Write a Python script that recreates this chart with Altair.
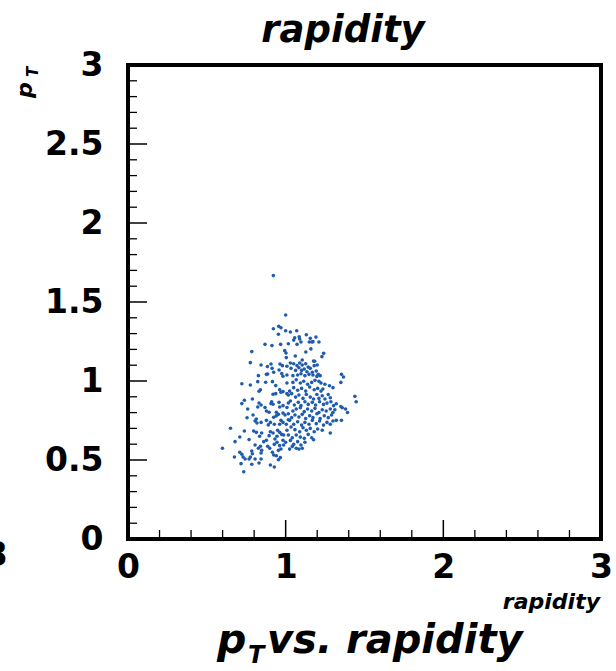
import altair as alt
import pandas as pd

# ---- data (rapidity, pT) ----
rapidity = [
    0.922, 1.000, 0.922, 0.956, 0.970, 1.000, 0.954, 0.869, 0.913, 0.968, 1.017, 0.785, 0.994, 1.002, 1.004,
    0.776, 0.844, 0.884, 0.907, 0.964, 0.979, 0.914, 1.008,
    1.030, 1.070, 1.131, 1.057, 1.051, 1.086, 1.089, 1.156, 1.167, 1.192, 1.072, 1.097, 1.150, 1.173, 1.211,
    1.160, 1.128, 1.241, 1.230, 1.061, 1.105, 1.184, 1.200,
    0.958, 0.975, 0.983, 1.008, 0.827, 0.878, 0.886, 0.924, 0.823, 0.873, 0.916, 0.722, 0.776, 1.008, 0.937,
    0.840, 0.831, 0.962, 0.970, 0.983, 0.920, 0.937, 1.008, 1.017, 0.789, 0.738, 0.722, 0.831, 0.844, 0.823,
    0.911, 0.920, 0.907, 0.869, 0.958, 0.962, 0.983, 1.017, 1.008, 0.759, 0.878, 0.895, 0.793, 0.941, 0.954,
    0.983, 0.996, 0.924, 0.940, 1.017, 0.755, 0.814, 0.844, 0.818, 0.806, 0.878, 0.903, 0.890, 0.928, 0.970,
    0.983, 0.962, 1.004, 1.017, 0.650, 0.738, 0.797, 0.814, 0.848, 0.835, 0.903, 0.920, 0.895, 0.949, 0.962,
    0.975, 0.945, 0.987, 1.008, 1.017, 0.709, 0.768, 0.679, 0.861, 0.878, 0.932, 0.945, 0.928, 0.983, 1.000,
    0.987, 0.806, 0.840, 0.827, 0.886, 0.899, 0.962, 0.970, 0.954, 0.599, 0.709, 0.722, 0.785, 0.789, 0.848,
    0.844, 0.916, 0.924, 0.675, 0.730, 0.743, 0.776, 0.768, 0.806, 0.844, 0.941, 0.966, 0.954, 0.717, 0.785,
    0.831, 0.903, 0.928, 0.734,
    1.030, 1.051, 1.072, 1.089, 1.105, 1.127, 1.143, 1.177, 1.181, 1.207, 1.219,
    1.034, 1.063, 1.084, 1.101, 1.118, 1.135, 1.156, 1.169, 1.194,
    1.046, 1.076, 1.097, 1.122, 1.148, 1.173, 1.198, 1.354, 1.367, 1.224, 1.350,
    1.046, 1.067, 1.093, 1.114, 1.139, 1.165, 1.186, 1.211, 1.249, 1.278, 1.300,
    1.025, 1.051, 1.076, 1.101, 1.127, 1.152, 1.181, 1.203, 1.224, 1.198, 1.236,
    1.038, 1.063, 1.084, 1.110, 1.131, 1.156, 1.177, 1.211, 1.232, 1.249, 1.270, 1.283, 1.439, 1.447,
    1.030, 1.055, 1.080, 1.097, 1.122, 1.143, 1.169, 1.190, 1.215, 1.240, 1.262, 1.287, 1.304, 1.321, 1.350,
    1.380, 1.392, 1.359,
    1.046, 1.067, 1.093, 1.118, 1.139, 1.165, 1.186, 1.211, 1.232, 1.257, 1.283, 1.300, 1.312,
    1.038, 1.059, 1.084, 1.105, 1.127, 1.152, 1.173, 1.198, 1.219, 1.245, 1.270, 1.291, 1.321, 1.354, 1.300,
    1.025, 1.051, 1.076, 1.101, 1.122, 1.148, 1.169, 1.194, 1.215, 1.240, 1.262, 1.283,
    1.034, 1.059, 1.089, 1.110, 1.131, 1.156, 1.181, 1.203, 1.232, 1.283,
    1.042, 1.067, 1.093, 1.118, 1.143, 1.165, 1.177,
    1.030, 1.051, 1.076, 1.097, 1.122,
    1.042, 1.025, 1.067, 1.084, 1.105,
]
pt = [
    1.667, 1.418, 1.331, 1.346, 1.337, 1.318, 1.296, 1.232, 1.224, 1.232, 1.236, 1.186, 1.192, 1.177, 1.148,
    1.116, 1.101, 1.091, 1.108, 1.108, 1.097, 1.080, 1.093,
    1.310, 1.318, 1.293, 1.274, 1.259, 1.280, 1.266, 1.270, 1.247, 1.278, 1.232, 1.247, 1.247, 1.249, 1.247,
    1.203, 1.184, 1.175, 1.154, 1.158, 1.133, 1.125, 1.101,
    1.070, 1.047, 1.030, 1.038, 1.034, 1.042, 1.044, 1.055, 0.996, 0.992, 0.996, 0.983, 0.975, 0.987, 0.971,
    0.945, 0.935, 0.945, 0.929, 0.933, 0.916, 0.920, 0.920, 0.911, 0.886, 0.878, 0.857, 0.861, 0.848, 0.835,
    0.869, 0.853, 0.857, 0.832, 0.865, 0.835, 0.844, 0.861, 0.832, 0.823, 0.810, 0.802, 0.785, 0.802, 0.789,
    0.797, 0.785, 0.771, 0.779, 0.793, 0.767, 0.759, 0.738, 0.734, 0.747, 0.751, 0.738, 0.722, 0.726, 0.751,
    0.738, 0.726, 0.726, 0.755, 0.701, 0.684, 0.684, 0.675, 0.671, 0.650, 0.679, 0.671, 0.654, 0.688, 0.675,
    0.662, 0.650, 0.658, 0.688, 0.658, 0.646, 0.629, 0.616, 0.616, 0.625, 0.633, 0.612, 0.599, 0.625, 0.612,
    0.595, 0.595, 0.587, 0.574, 0.587, 0.574, 0.591, 0.570, 0.561, 0.574, 0.549, 0.536, 0.557, 0.540, 0.561,
    0.544, 0.549, 0.532, 0.519, 0.519, 0.506, 0.519, 0.506, 0.506, 0.506, 0.527, 0.515, 0.502, 0.477, 0.473,
    0.481, 0.468, 0.456, 0.426,
    1.114, 1.109, 1.097, 1.114, 1.101, 1.109, 1.088, 1.126, 1.097, 1.042, 1.034,
    1.080, 1.067, 1.084, 1.067, 1.076, 1.059, 1.080, 1.055, 1.063,
    1.034, 1.038, 1.046, 1.034, 1.042, 1.038, 1.029, 1.042, 1.025, 0.987, 0.991,
    0.991, 1.008, 0.987, 0.998, 0.979, 0.991, 1.004, 0.998, 0.979, 0.970, 0.958,
    0.936, 0.958, 0.941, 0.953, 0.936, 0.962, 0.945, 0.953, 0.936, 0.915, 0.949,
    0.920, 0.898, 0.911, 0.890, 0.915, 0.898, 0.886, 0.890, 0.907, 0.886, 0.915, 0.894, 0.903, 0.869,
    0.873, 0.848, 0.865, 0.844, 0.869, 0.852, 0.865, 0.848, 0.869, 0.852, 0.860, 0.869, 0.844, 0.856, 0.839,
    0.823, 0.801, 0.831,
    0.810, 0.823, 0.831, 0.806, 0.823, 0.810, 0.827, 0.801, 0.818, 0.810, 0.823, 0.801, 0.818,
    0.768, 0.785, 0.772, 0.789, 0.763, 0.780, 0.768, 0.793, 0.763, 0.780, 0.768, 0.785, 0.751, 0.751, 0.747,
    0.751, 0.726, 0.742, 0.721, 0.738, 0.726, 0.751, 0.730, 0.747, 0.721, 0.738, 0.726,
    0.709, 0.692, 0.679, 0.704, 0.688, 0.700, 0.679, 0.696, 0.688, 0.671,
    0.641, 0.658, 0.645, 0.637, 0.662, 0.641, 0.628,
    0.624, 0.599, 0.616, 0.595, 0.612,
    0.586, 0.569, 0.574, 0.569, 0.574,
]

x_labels = [0, 1, 2, 3]
y_labels = [0, 0.5, 1, 1.5, 2, 2.5, 3]
x_major_ticks = [1.0, 2.0]
x_minor_ticks = [0.2, 0.4, 0.6, 0.8, 1.2, 1.4, 1.6, 1.8, 2.2, 2.4, 2.6, 2.8]
y_major_ticks = [0.5, 1.0, 1.5, 2.0, 2.5]
y_minor_ticks = [0.1, 0.2, 0.3, 0.4, 0.6, 0.7, 0.8, 0.9, 1.1, 1.2, 1.3, 1.4,
                 1.6, 1.7, 1.8, 1.9, 2.1, 2.2, 2.3, 2.4, 2.6, 2.7, 2.8, 2.9]

W, H = 473, 474
FONT = "DejaVu Sans"

xscale = alt.Scale(domain=[0, 3], nice=False, zero=False)
yscale = alt.Scale(domain=[0, 3], nice=False, zero=False)
common_axis = dict(title=None, ticks=False, tickSize=0, domain=False, grid=False,
                   labelFont=FONT, labelFontSize=33, labelFontWeight="bold",
                   labelColor="black", labelFlush=False, labelOverlap=False)
xaxis = alt.Axis(values=x_labels, format="d", labelPadding=12, **common_axis)
yaxis = alt.Axis(values=y_labels, format="~g", labelPadding=25, **common_axis)

df = pd.DataFrame({"rapidity": rapidity, "pt": pt})

points = alt.Chart(df).mark_circle(size=13, color="#1f5cae", opacity=1).encode(
    x=alt.X("rapidity:Q", scale=xscale, axis=xaxis),
    y=alt.Y("pt:Q", scale=yscale, axis=yaxis),
)


def yticks(vals, length, width):
    return alt.Chart(pd.DataFrame({"pt": vals})).mark_rule(color="black", strokeWidth=width).encode(
        y=alt.Y("pt:Q", scale=yscale, axis=yaxis),
        x=alt.value(0), x2=alt.value(length),
    )


def xticks(vals, length, width):
    return alt.Chart(pd.DataFrame({"rapidity": vals})).mark_rule(color="black", strokeWidth=width).encode(
        x=alt.X("rapidity:Q", scale=xscale, axis=xaxis),
        y=alt.value(H), y2=alt.value(H - length),
    )


def label(t, x, y, size, align="left", angle=0):
    return alt.Chart(pd.DataFrame({"t": [t]})).mark_text(
        font=FONT, fontSize=size, fontWeight="bold", fontStyle="italic",
        align=align, baseline="alphabetic", angle=angle, color="black",
    ).encode(text="t:N", x=alt.value(x), y=alt.value(y))


layers = [
    yticks(y_minor_ticks, 9, 1.3),
    yticks(y_major_ticks, 19, 1.5),
    xticks(x_minor_ticks, 9, 1.3),
    xticks(x_major_ticks, 19, 1.5),
    points,
    label("rapidity", 215, -23, 37, align="center"),
    label("rapidity", 472, 544, 22, align="right"),
    label("p", -96, 25, 22, align="center", angle=270),
    label("T", -90, 7, 15, align="center", angle=270),
    label("p", 89, 588, 41),
    label("T", 120, 598, 24),
    label("vs. rapidity", 139, 588, 40),
    alt.Chart(pd.DataFrame({"t": ["3"]})).mark_text(
        font=FONT, fontSize=33, fontWeight="bold", align="right", baseline="middle", color="black"
    ).encode(text="t:N", x=alt.value(-120), y=alt.value(491)),
]

chart = alt.layer(*layers).properties(
    width=W, height=H,
    padding={"left": 128, "top": 65, "right": 15, "bottom": 132},
    autosize=alt.AutoSizeParams(type="none"),
    background="white",
).configure_view(stroke="black", strokeWidth=4)

chart.save("out.html", embed_options={"renderer": "svg", "actions": False})
